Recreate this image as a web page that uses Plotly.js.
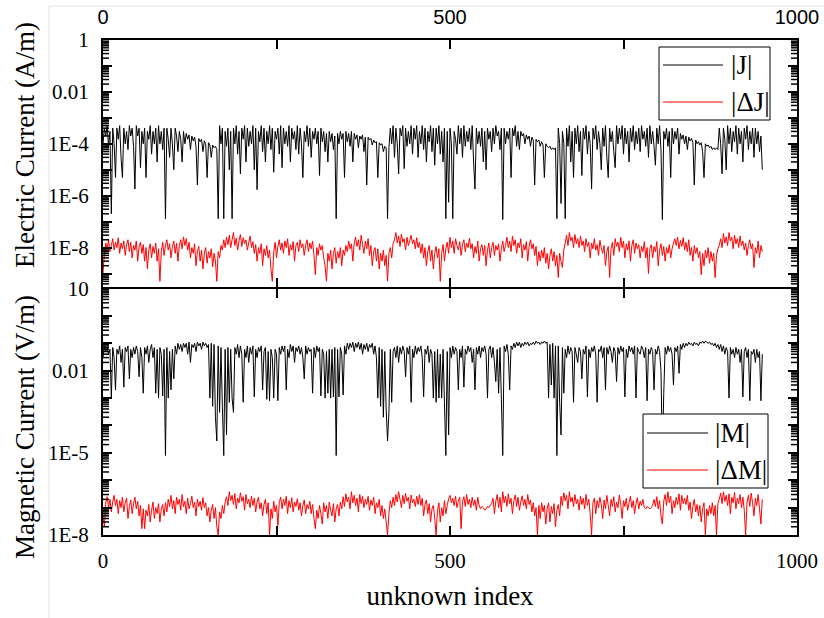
<!DOCTYPE html>
<html>
<head>
<meta charset="utf-8">
<script src="https://cdn.plot.ly/plotly-3.0.1.min.js"></script>
<style>html,body{margin:0;padding:0;background:#fff;}#chart{width:824px;height:618px;}</style>
</head>
<body>
<div id="chart"></div>
<script>
// ---- data (every 2nd unknown index) ----
const STEP = 2;
const seriesNames = ['|J|', '|\u0394J|', '|M|', '|\u0394M|'];

const J = [
1e-4,4e-4,2e-4,5e-4,8e-5,3e-4,2e-7,4e-4,1e-4,5e-6,
4e-4,1.5e-4,5e-4,3e-5,5e-6,4e-4,1e-4,3e-4,6e-5,5e-4,
2e-4,4e-4,8e-5,1.8e-6,5e-4,2e-4,4e-4,1.2e-5,3e-4,1e-4,
4e-4,5e-6,3e-4,1.5e-4,5e-4,4e-5,3e-4,1e-4,4e-4,2e-5,
5e-4,1e-4,3e-4,6e-5,4e-4,1.3e-7,4e-4,1.5e-4,3e-5,4e-4,
1e-4,1e-5,4e-4,2e-4,5e-5,3e-4,1.5e-4,2e-5,3e-4,1e-4,
2.5e-4,1.5e-4,2.2e-4,6e-5,2e-4,1.3e-4,1.8e-4,8e-5,2.6e-6,1.6e-4,
1.2e-4,1.5e-4,5e-5,1.3e-4,1e-4,5e-6,1.1e-4,9e-5,3e-5,9e-5,
7e-5,8e-5,6e-5,1.3e-7,5e-4,1e-4,4e-4,1.3e-7,3e-4,8e-5,
4e-4,1e-5,3e-4,1.3e-7,4e-4,1e-4,5e-4,4e-5,3e-4,7e-6,
4e-4,1.5e-4,5e-4,2e-5,4e-4,8e-5,3e-4,1e-4,5e-4,1e-5,
4e-4,1.7e-6,3e-4,1.2e-4,5e-4,5e-5,4e-4,2e-5,3e-4,1e-4,
5e-4,6e-5,4e-4,8e-6,3e-4,1.5e-4,4e-4,4e-5,5e-4,1.2e-5,
4e-4,1e-4,3e-4,8e-5,5e-4,2e-5,4e-4,1.5e-4,3e-4,6e-5,
5e-4,4e-5,4e-4,1e-4,5e-6,3e-4,1.2e-4,5e-4,8e-5,4e-4,
3e-5,3e-4,1.5e-4,4e-4,1e-4,3e-4,6e-6,4e-4,1.2e-4,3e-4,
5e-5,2.5e-4,2e-5,3e-4,1.2e-4,2.5e-4,6e-5,2e-4,1.3e-7,2.5e-4,
1e-4,3e-4,1.5e-4,2.5e-4,5e-6,3e-4,1.2e-4,2.5e-4,8e-5,3e-4,
2e-5,2.5e-4,1.5e-4,2.2e-4,7e-5,2e-4,1.5e-4,2.2e-4,5e-5,1.8e-4,
2.6e-6,1.8e-4,1.4e-4,1.6e-4,9e-5,1.4e-4,1.1e-4,1.2e-4,5e-6,1.1e-4,
9e-5,1e-4,5e-5,8e-5,7e-5,1.3e-7,7e-5,4e-4,1e-4,5e-4,
3e-5,4e-4,1e-4,7e-6,4e-4,2e-4,5e-4,1.1e-5,4e-4,8e-5,
3e-4,1e-4,5e-4,4e-5,4e-4,1.5e-4,5e-4,3e-5,3e-4,1e-4,
5e-4,6e-5,4e-4,2e-5,3e-4,1.2e-4,5e-4,5e-5,4e-4,1.5e-5,
4e-4,1e-4,5e-4,4e-5,3e-4,2e-5,4e-4,1.3e-7,3e-4,5.6e-7,
4e-4,1e-4,1.3e-7,3e-4,1.5e-4,4e-5,5e-4,1e-4,4e-4,3e-5,
5e-4,8e-5,3e-4,1.2e-4,4e-4,6e-5,5e-4,2e-5,1.8e-6,4e-4,
1e-4,3e-4,8e-5,4e-4,2e-5,3e-4,1e-5,4e-4,1.5e-4,3e-4,
5e-5,4e-4,1e-4,5e-4,2e-4,3e-4,6e-5,4e-4,1.2e-7,4e-4,
1e-4,3e-4,1.5e-4,4e-4,5e-6,4e-4,2e-4,5e-4,8e-5,3e-4,
6e-5,3e-4,2e-4,2.5e-4,1e-4,2.2e-4,1.5e-4,2e-4,8e-5,1.8e-4,
1.4e-4,2.6e-6,1.5e-4,1.2e-4,1.4e-4,8e-5,1.2e-4,9e-5,5e-6,1e-4,
8e-5,7e-5,8e-5,6e-5,7e-5,6e-5,7e-5,1.3e-7,4e-4,1e-4,
5e-7,3e-4,1e-4,1.3e-7,4e-4,8e-5,5e-4,2e-5,3e-4,5e-6,
4e-4,1e-4,5e-4,5e-5,3e-4,6e-6,4e-4,1.5e-4,5e-4,4e-5,
3e-4,1e-4,1.8e-6,4e-4,1.5e-4,5e-4,6e-5,3e-4,1e-4,1e-5,
4e-4,8e-5,5e-4,3e-5,5e-6,4e-4,1.2e-4,3e-4,5e-5,1.2e-5,
5e-4,1e-4,4e-4,1.5e-4,5e-4,4e-5,4e-4,1e-4,3e-4,2e-5,
4e-4,1.2e-4,5e-4,6e-5,3e-4,1e-4,4e-4,5e-5,5e-4,1.5e-4,
3e-4,8e-5,4e-4,3e-5,5e-4,1e-4,3e-4,8e-5,1.5e-5,4e-4,
1e-4,5e-4,6e-5,1.2e-7,3e-4,1.5e-4,4e-4,8e-5,3e-4,5e-6,
4e-4,1e-4,3e-4,1.5e-4,4e-4,4e-5,2.5e-4,1.5e-4,2.2e-4,1e-4,
2e-4,6e-5,1.8e-4,1.3e-4,1.6e-4,1.1e-4,2.6e-6,1.4e-4,1e-4,1.2e-4,
9e-5,1.1e-4,5e-5,5e-6,1e-4,8e-5,9e-5,7e-5,8e-5,6e-5,
7e-5,6e-5,7e-5,6e-5,4e-4,1e-4,7e-6,4e-4,1.5e-4,1e-5,
5e-4,1e-4,4e-4,5e-5,3e-4,1.2e-4,5e-4,4e-5,4e-4,1e-4,
3e-4,2e-5,4e-4,1.5e-4,5e-4,6e-5,3e-4,1e-4,4e-4,3e-5,
4e-4,1e-4,3e-4,5e-5,2e-4,1e-5
];

const dJ = [
1e-9,6e-9,1.5e-8,9e-9,2e-8,7e-9,1.2e-8,2.2e-8,8e-9,1.6e-8,
1e-8,2.4e-8,6e-9,1.5e-8,9e-9,1.8e-8,5e-9,1.3e-8,2e-8,7e-9,
1.6e-8,4e-9,1.2e-8,8e-9,1.8e-8,3e-9,1.1e-8,1.6e-8,6e-9,1.3e-8,
3e-9,1e-8,1.5e-9,8e-9,1.4e-8,4e-9,1.1e-8,6e-9,1.5e-8,3e-9,
9e-9,5e-10,7e-9,1.6e-8,5e-9,1.2e-8,2e-8,8e-9,1.4e-8,4e-9,
1.1e-8,1.8e-8,6e-9,1.5e-8,3e-9,1.2e-8,2e-8,9e-9,2.6e-8,1.2e-8,
2.2e-8,8e-9,1.6e-8,4e-9,1e-8,6e-9,1.4e-8,2e-9,7e-9,1.1e-8,
3e-9,8e-9,1.5e-9,6e-9,1e-8,2.5e-9,7e-9,4e-9,9e-9,1.8e-9,
6e-9,3e-9,5e-10,7e-9,4e-9,1.2e-8,8e-9,2e-8,1e-8,2.5e-8,
1.3e-8,3e-8,1e-8,2e-8,3.8e-8,1.2e-8,2.3e-8,8e-9,1.8e-8,3.2e-8,
1.1e-8,2.4e-8,1.4e-8,2e-8,8e-9,1.5e-8,2.8e-8,1e-8,1.7e-8,6e-9,
1.3e-8,3e-9,1e-8,6e-9,1.4e-8,2e-9,9e-9,5e-9,1.2e-8,4e-9,
8e-9,1.5e-9,5e-10,7e-9,1.6e-8,4e-9,1.1e-8,2e-8,8e-9,1.5e-8,
6e-9,1.8e-8,1e-8,2.2e-8,5e-9,1.3e-8,8e-9,1.7e-8,3e-9,1.2e-8,
1.6e-8,7e-9,2e-8,1e-8,1.4e-8,5e-9,1.2e-8,2e-8,7e-9,1.5e-8,
9e-9,1.8e-8,5e-9,9e-10,1e-8,5e-9,1.4e-8,8e-9,1.2e-8,4e-9,
2e-9,5e-10,6e-9,3e-9,8e-9,1.5e-9,6e-9,1e-8,2.5e-9,7e-9,
4e-9,1e-8,2e-9,8e-9,5e-9,1.2e-8,7e-9,1.8e-8,9e-9,1.4e-8,
3e-9,1.5e-8,2.5e-8,1.1e-8,2e-8,8e-9,3e-8,1.3e-8,6e-9,1.8e-8,
9e-9,2.2e-8,5e-9,1.2e-8,2e-9,7e-9,1e-8,3e-9,9e-9,1.5e-9,
6e-9,3e-9,8e-9,2e-9,5e-9,5e-10,6e-9,1e-8,4e-9,1.4e-8,
2e-8,3.8e-8,1.5e-8,2.8e-8,1.1e-8,3.3e-8,1.6e-8,2.2e-8,8e-9,2.5e-8,
1.2e-8,1.8e-8,3e-8,1.4e-8,2e-8,9e-9,2.4e-8,1e-8,1.6e-8,6e-9,
1.4e-8,4e-9,1e-8,2e-9,7e-9,1.2e-8,3e-9,8e-9,1.5e-9,6e-9,
1.1e-8,4e-9,9e-9,5e-10,6e-9,1.3e-8,3e-9,9e-9,1.6e-8,6e-9,
2.5e-8,1e-8,1.8e-8,6e-9,2.2e-8,1.2e-8,8e-9,1.7e-8,5e-9,1.3e-8,
2e-8,7e-9,1.5e-8,1e-8,2.3e-8,9e-9,1.4e-8,4e-9,1.1e-8,6e-9,
1.8e-8,3e-9,9e-9,1.3e-8,5e-9,1.2e-8,2e-9,8e-9,1.5e-8,4e-9,
1e-8,1.6e-8,5e-9,1.2e-8,8e-9,1.4e-8,3e-9,9e-9,1.8e-8,7e-9,
1.2e-8,2.5e-8,1e-8,1.8e-8,7e-9,2.8e-8,1.2e-8,2e-8,6e-9,1.5e-8,
1e-8,2.2e-8,4e-9,1.3e-8,8e-9,1.7e-8,3e-9,1.1e-8,2e-8,9e-9,
1.4e-8,5e-9,1.1e-8,2e-9,7e-9,3e-9,8e-9,4e-9,1e-8,2.5e-9,
6e-9,1.5e-9,5e-9,9e-9,3e-9,7e-9,2e-9,5e-9,7e-10,6e-9,
3e-9,1.7e-9,8e-9,1.5e-8,3e-8,1.2e-8,3.8e-8,1.8e-8,2.5e-8,1e-8,
3.2e-8,1.4e-8,2.2e-8,1e-8,2.8e-8,1.2e-8,1.8e-8,7e-9,2.2e-8,1.1e-8,
1.6e-8,4e-9,1.5e-8,9e-9,2.2e-8,8e-9,1.3e-8,5e-9,1.9e-8,1e-8,
6e-9,1.2e-8,2e-9,7e-9,1.1e-8,7e-10,9e-9,1.6e-8,5e-9,2.2e-8,
1.1e-8,1.6e-8,7e-9,2.5e-8,1e-8,1.8e-8,4e-9,1.4e-8,8e-9,1.8e-8,
3e-9,1.2e-8,2e-8,6e-9,1.5e-8,9e-9,1.3e-8,4e-9,1.1e-8,7e-9,
1.7e-8,4e-9,1e-8,1e-9,9e-9,1.3e-8,4e-9,1.1e-8,7e-9,1.7e-8,
2e-9,8e-9,1.4e-8,5e-9,1.1e-8,3e-9,1e-8,6e-9,1.3e-8,4e-9,
9e-9,1.5e-8,2.2e-8,1.2e-8,2.5e-8,9e-9,1.9e-8,1.1e-8,2.4e-8,8e-9,
1.6e-8,7e-9,2e-8,5e-9,1e-8,3e-9,1.2e-8,6e-9,1e-8,4e-9,
7e-9,9e-10,6e-9,2e-9,8e-9,4e-9,1e-8,2.5e-9,7e-9,3e-9,
6e-9,7e-10,5e-9,9e-9,1.2e-8,2.2e-8,1e-8,3.5e-8,1.5e-8,2.6e-8,
1.2e-8,3.8e-8,1.8e-8,2.5e-8,9e-9,3e-8,1.4e-8,2.2e-8,1e-8,2.8e-8,
1.2e-8,1.8e-8,8e-9,1.5e-8,5e-9,1.2e-8,2e-8,9e-9,1.4e-8,1.7e-9,
1e-8,6e-9,1.8e-8,4e-9,1.2e-8,7e-9
];

const M = [
0.03,0.08,0.05,0.07,0.04,0.06,1e-3,0.07,0.03,2e-3,
0.06,0.04,0.08,0.02,0.06,2.5e-3,0.07,0.05,0.08,5e-3,
0.06,0.03,0.07,0.04,0.08,0.05,6e-3,0.07,0.03,1.5e-3,
0.07,0.04,0.08,0.02,0.06,0.09,0.03,0.07,1.5e-3,0.06,
1e-3,0.07,0.04,1.2e-3,0.06,8e-6,0.07,1e-3,0.05,2e-3,
0.06,5e-3,0.08,0.04,0.1,0.06,0.09,0.05,0.1,0.07,
0.1,0.04,0.11,0.02,0.09,0.07,0.1,0.05,0.11,0.08,
0.1,0.06,0.11,0.08,0.1,0.07,0.09,1e-3,0.1,5e-4,
0.09,2e-4,2.7e-5,0.08,3e-4,0.07,5e-4,8e-6,0.06,4.5e-5,
0.07,7e-4,0.06,1e-3,3e-4,0.07,0.04,0.09,0.03,0.08,
0.04,7e-4,0.06,0.03,0.08,0.02,0.07,0.04,0.08,1.1e-3,
0.06,0.03,0.07,0.05,0.08,2e-3,0.05,0.07,9e-4,0.05,
8e-4,0.06,0.03,1e-3,0.06,0.04,8e-4,0.07,0.04,0.08,
0.05,0.08,2e-3,0.06,0.03,0.09,0.05,0.08,0.02,0.07,
0.05,0.08,0.04,0.07,0.03,5e-3,0.08,0.04,0.07,0.05,
0.06,1.5e-3,0.07,0.03,0.08,0.05,0.07,1.2e-3,0.06,0.04,
1e-3,0.05,1.5e-3,0.06,1e-3,0.06,1.1e-3,0.07,8e-6,0.06,
1.1e-3,0.07,0.04,1.3e-3,0.08,0.04,0.1,0.06,0.1,0.07,
0.11,0.05,0.1,0.07,0.11,0.06,0.1,0.04,0.09,0.06,
0.1,0.05,0.09,0.07,0.1,0.04,0.08,0.03,1e-3,0.07,
5e-4,0.06,2e-4,0.05,4e-4,2.7e-5,3e-4,0.06,7e-4,0.05,
0.07,0.03,0.08,0.02,0.07,0.04,0.08,0.05,6e-3,0.07,
0.04,0.08,7e-4,0.06,0.03,0.08,0.04,0.07,0.05,0.08,
0.03,1.1e-3,0.06,0.04,0.08,0.02,0.06,0.04,1e-3,0.05,
7e-4,0.06,1e-3,0.04,1e-3,0.06,7e-4,8e-6,0.05,4.5e-5,
0.07,0.03,0.08,0.04,0.07,0.05,2e-3,0.06,0.03,0.08,
2.5e-3,0.06,0.04,0.08,0.05,0.07,0.02,0.06,2e-3,0.07,
0.04,0.08,0.03,0.07,0.05,0.08,0.04,1e-3,0.06,0.08,
0.03,0.07,0.02,4e-3,0.06,1.5e-3,0.07,1e-3,8e-6,0.08,
0.05,0.09,0.04,2e-3,0.08,0.06,0.1,0.07,0.11,0.08,
0.11,0.07,0.1,0.08,0.11,0.09,0.11,0.08,0.1,0.09,
0.11,0.09,0.12,0.1,0.11,0.09,0.11,0.1,0.12,0.1,
0.11,1e-3,0.09,3e-3,0.1,1e-3,0.08,8e-6,0.08,7e-4,
4.5e-5,0.07,1.5e-3,0.06,0.03,0.08,0.04,0.07,0.05,7e-4,
0.07,0.04,0.02,0.07,0.05,5e-3,0.06,0.04,0.08,1.1e-3,
0.06,0.03,0.07,0.05,0.08,0.04,7e-4,0.06,0.05,0.08,
0.03,0.07,2e-3,0.07,0.04,0.08,0.05,0.02,0.07,0.05,
4e-3,0.07,0.04,0.08,0.05,0.07,1.1e-3,0.06,0.03,0.08,
0.05,0.07,0.04,0.08,1e-3,0.07,0.05,0.04,0.08,0.06,
0.03,0.07,8e-4,0.06,0.04,0.07,0.05,2e-3,0.06,0.04,
0.08,0.05,0.01,8e-6,1.5e-3,0.07,0.04,0.08,0.05,0.07,
0.04,3e-3,0.07,0.05,0.08,8e-3,0.09,0.06,0.1,0.07,
0.1,0.08,0.11,0.09,0.1,0.08,0.11,0.09,0.1,0.08,
0.11,0.1,0.12,0.1,0.12,0.11,0.1,0.11,0.09,0.1,
0.08,0.1,0.07,0.09,0.06,0.09,0.05,0.08,0.04,0.07,
0.05,1e-3,0.07,0.04,0.06,0.03,0.07,0.04,0.06,0.02,
0.06,1.1e-3,0.05,0.07,0.03,0.06,8e-4,0.05,0.04,0.06,
0.02,0.06,0.03,0.05,8e-4,0.04
];

const dM = [
5e-8,2e-8,1.5e-7,2.5e-7,1e-7,2e-7,7e-8,1.6e-7,2.8e-7,1.2e-7,
2e-7,6e-8,1.8e-7,1e-7,2.4e-7,7e-8,1.5e-7,2.2e-7,4e-8,1.1e-7,
1.9e-7,6e-8,1.4e-7,2.4e-7,9e-8,1.7e-7,5e-8,1.2e-7,1.7e-8,9e-8,
1.7e-8,8e-8,5e-8,1.3e-7,3e-8,8e-8,1.6e-7,4e-8,1e-7,6e-8,
1.4e-7,3e-8,9e-8,1.3e-7,5e-8,1.5e-7,7e-8,2e-7,1.1e-7,2.8e-7,
9e-8,1.8e-7,6e-8,2.4e-7,1.3e-7,2e-7,8e-8,3e-7,1.1e-7,1.7e-7,
6e-8,2.2e-7,9e-8,1.4e-7,2.6e-7,1e-7,1.6e-7,5e-8,2e-7,1.1e-7,
1.7e-7,8e-8,2.3e-7,1e-7,1.5e-7,5e-8,1e-7,3e-8,8e-8,1.3e-7,
4e-8,1e-7,2e-8,1e-8,7e-8,4e-8,1.2e-7,6e-8,1.6e-7,2.5e-7,
1.2e-7,3.8e-7,1.8e-7,2.8e-7,1.3e-7,3.2e-7,9e-8,2.2e-7,1.5e-7,3.5e-7,
1.7e-7,2.5e-7,8e-8,3e-7,1.4e-7,2e-7,1e-7,2.6e-7,1.2e-7,2.2e-7,
7e-8,1.6e-7,2.4e-7,9e-8,1.5e-7,5e-8,1.3e-7,2e-7,6e-8,1.5e-7,
1e-8,9e-8,4e-8,1.7e-7,7e-8,1.2e-7,2.2e-8,1.5e-7,2.4e-7,9e-8,
2e-7,1.2e-7,2.6e-7,6e-8,1.8e-7,1e-7,2.3e-7,7e-8,1.6e-7,1.1e-7,
2.1e-7,8e-8,1.5e-7,5e-8,1.2e-7,1.9e-7,6e-8,1.3e-7,9e-8,1.7e-7,
6e-8,1.3e-7,4e-8,1.7e-8,8e-8,4e-8,1.2e-7,6e-8,2.5e-8,1.5e-7,
7e-8,1.2e-7,4e-8,1.6e-7,8e-8,5e-8,1.4e-7,3e-8,9e-8,1.3e-7,
5e-8,1.6e-7,9e-8,2.5e-7,1.1e-7,3.2e-7,1.6e-7,2.4e-7,9e-8,3.8e-7,
1.5e-7,2.8e-7,1.2e-7,2.2e-7,7e-8,3e-7,1.4e-7,2.6e-7,1e-7,2e-7,
1.3e-7,2.6e-7,8e-8,1.9e-7,1.2e-7,2.4e-7,6e-8,1.5e-7,1e-7,2e-7,
5e-8,1.2e-7,4e-8,9e-8,3e-8,1e-8,6e-8,1.8e-7,1e-7,2.4e-7,
1.2e-7,3e-7,1.6e-7,3.8e-7,2e-7,1e-7,2.8e-7,1.4e-7,3.3e-7,1.7e-7,
2.4e-7,9e-8,2.9e-7,1.5e-7,2e-7,1.1e-7,2.6e-7,1.3e-7,3e-7,1.2e-7,
2.2e-7,5e-8,1.3e-7,1.9e-7,6e-8,1.4e-7,3e-8,9e-8,1.2e-7,4e-8,
1e-8,8e-8,1.5e-7,3e-8,1e-7,5e-8,1.8e-7,6e-8,1.2e-7,2.1e-7,
2.8e-7,1.5e-7,2.2e-7,1.2e-7,2.6e-7,1e-7,1.7e-7,2.4e-7,1.7e-8,1.6e-7,
2.5e-7,1.1e-7,3e-7,1.3e-7,2e-7,1e-7,2.4e-7,1.2e-7,1.9e-7,8e-8,
2.4e-7,1.2e-7,9e-8,1.1e-7,1e-7,8e-8,9e-8,1.1e-7,1e-7,1.2e-7,
1.4e-7,2.2e-7,6e-8,1.7e-7,3e-7,1e-7,2.4e-7,7e-8,3.8e-7,1.5e-7,
2.6e-7,1.1e-7,3.2e-7,1.4e-7,2.2e-7,6e-8,1.8e-7,2.9e-7,1.1e-7,2.4e-7,
8e-8,1.6e-7,2.7e-7,1.2e-7,2e-7,9e-8,3e-7,1.3e-7,1.9e-7,7e-8,
1.5e-7,5e-8,1e-7,1e-8,1.2e-7,4e-8,1.5e-7,7e-8,1.2e-7,2.5e-8,
9e-8,1.5e-7,3e-8,1.1e-7,6e-8,1.4e-7,2e-8,8e-8,1.3e-7,5e-8,
2.6e-7,1.2e-7,3.5e-7,1.8e-7,2.8e-7,9e-8,3.8e-7,1.6e-7,2.4e-7,1.1e-7,
3e-7,1.4e-7,2e-7,8e-8,2.6e-7,1.3e-7,2.2e-7,9e-8,3e-7,1.2e-7,
2e-7,6e-8,1e-8,1.5e-7,2.2e-7,6e-8,1.8e-7,1e-7,2.4e-7,1.3e-7,
4e-8,1.9e-7,9e-8,2.8e-7,1.2e-7,5e-8,2e-7,1.1e-7,2.5e-7,7e-8,
1.6e-7,1e-7,2.9e-7,1.3e-7,4e-8,1.8e-7,1.1e-7,2.2e-7,8e-8,1.5e-7,
2.6e-7,1e-7,1.8e-7,6e-8,1.4e-7,2.3e-7,9e-8,1.7e-7,1.2e-7,2e-7,
1e-7,9e-8,1.1e-7,1e-7,9e-8,1e-7,1.2e-7,2e-7,1.1e-7,2.5e-7,
9e-8,1.8e-7,5e-8,2.5e-8,1.7e-7,3e-7,1.2e-7,3.8e-7,1.5e-7,2.6e-7,
6e-8,1.8e-7,1e-7,2.4e-7,1.3e-7,3.2e-7,8e-8,2.8e-7,1.4e-7,2.2e-7,
1.3e-7,2.8e-7,8e-8,1.6e-7,4e-8,1.1e-7,2e-7,7e-8,1.3e-7,5e-8,
1.2e-7,3e-8,9e-8,1.5e-7,1e-8,9e-8,5e-8,1.2e-7,6e-8,1.5e-7,
5e-8,1.2e-7,1e-8,1.4e-7,2e-7,3.4e-7,1.4e-7,3.8e-7,1.7e-7,2.8e-7,
1.2e-7,3.2e-7,6e-8,2.4e-7,1.5e-7,3.6e-7,9e-8,2.2e-7,1.4e-7,3e-7,
1e-7,2.4e-7,8e-8,1e-8,1.6e-7,2.8e-7,1.1e-7,3.4e-7,1.5e-7,5e-8,
2.2e-7,1.2e-7,3e-7,9e-8,2.5e-8,2e-7
];

// tick labels
const xTickVals = [0, 250, 500, 750, 1000];
const xTickText = ['0', '', '500', '', '1000'];
const yTopTickVals = [1, 0.1, 0.01, 1e-3, 1e-4, 1e-5, 1e-6, 1e-7, 1e-8, 1e-9];
const yTopTickText = ['1', '', '0.01', '', '1E-4', '', '1E-6', '', '1E-8', ''];
const yBotTickVals = [10, 1, 0.1, 0.01, 1e-3, 1e-4, 1e-5, 1e-6, 1e-7, 1e-8];
const yBotTickText = ['10', '', '', '0.01', '', '', '1E-5', '', '', '1E-8'];

// ---- drawing ----
const SERIF = 'Liberation Serif, Times New Roman, serif';
const SANS = 'Liberation Sans, Arial, sans-serif';
const W = 824, H = 618, ML = 103, MR = 27, MT = 40, MB = 83;
const PW = W - ML - MR, PH = H - MT - MB;
const px = v => (v - ML) / PW;
const py = v => (H - MB - v) / PH;
const idx = arr => arr.map((_, i) => i * STEP);
const GAP = 1 / PH;   // so the two 2px frame lines at the panel joint coincide
const TOP_RANGE = [-9.5, 0], BOT_RANGE = [-8, 1];
const TOP_DOM = [0.5 + GAP, 1], BOT_DOM = [0, 0.5 - GAP];

// minor log ticks (2..9 of each decade) on both y sides: short paper-space lines
function minorTickShapes(range, dom) {
  const out = [], len = 6 / PW;
  for (let e = Math.floor(range[0]); e < range[1]; e++) {
    for (let m = 2; m <= 9; m++) {
      const lv = e + Math.log10(m);
      if (lv <= range[0] || lv >= range[1]) continue;
      const yp = dom[0] + (lv - range[0]) / (range[1] - range[0]) * (dom[1] - dom[0]);
      [[-1 / PW, len], [1 - len, 1 + 1 / PW]].forEach(([a, b]) => out.push({
        type: 'line', xref: 'paper', yref: 'paper', x0: a, x1: b, y0: yp, y1: yp,
        line: {color: '#000', width: 1.5}, layer: 'above'
      }));
    }
  }
  return out;
}

const traces = [
  {x: idx(J), y: J, xaxis: 'x2', yaxis: 'y', type: 'scatter', mode: 'lines', name: seriesNames[0],
   line: {color: '#000000', width: 1, simplify: false}, showlegend: false},
  {x: idx(dJ), y: dJ, xaxis: 'x2', yaxis: 'y', type: 'scatter', mode: 'lines', name: seriesNames[1],
   line: {color: '#ff0000', width: 1, simplify: false}, showlegend: false},
  {x: idx(M), y: M, xaxis: 'x', yaxis: 'y2', type: 'scatter', mode: 'lines', name: seriesNames[2],
   line: {color: '#000000', width: 1, simplify: false}, showlegend: false},
  {x: idx(dM), y: dM, xaxis: 'x', yaxis: 'y2', type: 'scatter', mode: 'lines', name: seriesNames[3],
   line: {color: '#ff0000', width: 1, simplify: false}, showlegend: false}
];

const axisCommon = {
  showline: true, linewidth: 2, linecolor: '#000', mirror: 'ticks',
  ticks: 'inside', ticklen: 9, tickwidth: 2, tickcolor: '#000',
  showgrid: false, zeroline: false, tickmode: 'array'
};

const legendShapes = [
  // faint outer frame lines seen in the reference
  {type: 'line', xref: 'paper', yref: 'paper', x0: px(49), x1: px(824), y0: py(6), y1: py(6), line: {color: '#e4e4e4', width: 1}, layer: 'below'},
  {type: 'line', xref: 'paper', yref: 'paper', x0: px(49), x1: px(49), y0: py(6), y1: py(618), line: {color: '#e4e4e4', width: 1}, layer: 'below'},
  // top legend
  {type: 'rect', xref: 'paper', yref: 'paper', x0: px(659), x1: px(770), y0: py(47), y1: py(120), line: {color: '#000', width: 1}, fillcolor: '#ffffff', layer: 'above'},
  {type: 'line', xref: 'paper', yref: 'paper', x0: px(663), x1: px(723), y0: py(65), y1: py(65), line: {color: '#000', width: 1}, layer: 'above'},
  {type: 'line', xref: 'paper', yref: 'paper', x0: px(663), x1: px(723), y0: py(102), y1: py(102), line: {color: '#ff0000', width: 1}, layer: 'above'},
  // bottom legend
  {type: 'rect', xref: 'paper', yref: 'paper', x0: px(643), x1: px(768), y0: py(414), y1: py(488), line: {color: '#000', width: 1}, fillcolor: '#ffffff', layer: 'above'},
  {type: 'line', xref: 'paper', yref: 'paper', x0: px(647), x1: px(708), y0: py(433), y1: py(433), line: {color: '#000', width: 1}, layer: 'above'},
  {type: 'line', xref: 'paper', yref: 'paper', x0: px(647), x1: px(708), y0: py(470), y1: py(470), line: {color: '#ff0000', width: 1}, layer: 'above'}
];

const layout = {
  width: W, height: H,
  margin: {l: ML, r: MR, t: MT, b: MB, pad: 0},
  paper_bgcolor: '#ffffff', plot_bgcolor: '#ffffff',
  showlegend: false,
  xaxis: Object.assign({}, axisCommon, {
    domain: [0, 1], anchor: 'y2', range: [0, 1000],
    tickvals: xTickVals, ticktext: xTickText,
    ticklabelstandoff: 6,
    tickfont: {family: SERIF, size: 21, color: '#000'},
    title: {text: 'unknown index', font: {family: SERIF, size: 27, color: '#000'}, standoff: 14}
  }),
  xaxis2: Object.assign({}, axisCommon, {
    domain: [0, 1], anchor: 'y', side: 'top', range: [0, 1000],
    tickvals: xTickVals, ticktext: xTickText,
    ticklabelstandoff: 6,
    tickfont: {family: SANS, size: 20, color: '#000'}
  }),
  yaxis: Object.assign({}, axisCommon, {
    domain: TOP_DOM, anchor: 'x2', type: 'log', range: TOP_RANGE,
    tickvals: yTopTickVals, ticktext: yTopTickText,
    ticklabelstandoff: 8,
    tickfont: {family: SERIF, size: 21, color: '#000'}
  }),
  yaxis2: Object.assign({}, axisCommon, {
    domain: BOT_DOM, anchor: 'x', type: 'log', range: BOT_RANGE,
    tickvals: yBotTickVals, ticktext: yBotTickText,
    ticklabelstandoff: 8,
    tickfont: {family: SERIF, size: 21, color: '#000'}
  }),
  shapes: minorTickShapes(TOP_RANGE, TOP_DOM)
    .concat(minorTickShapes(BOT_RANGE, BOT_DOM))
    .concat(legendShapes),
  annotations: [
    {text: 'Electric Current (A/m)', xref: 'paper', yref: 'paper', x: px(25), y: py(145), textangle: -90,
     xanchor: 'center', yanchor: 'middle', showarrow: false, font: {family: SERIF, size: 27, color: '#000'}},
    {text: 'Magnetic Current (V/m)', xref: 'paper', yref: 'paper', x: px(25), y: py(427), textangle: -90,
     xanchor: 'center', yanchor: 'middle', showarrow: false, font: {family: SERIF, size: 27, color: '#000'}},
    {text: seriesNames[0], xref: 'paper', yref: 'paper', x: px(729), y: py(65), xanchor: 'left', yanchor: 'middle',
     showarrow: false, font: {family: SERIF, size: 27, color: '#000'}},
    {text: seriesNames[1], xref: 'paper', yref: 'paper', x: px(729), y: py(102), xanchor: 'left', yanchor: 'middle',
     showarrow: false, font: {family: SERIF, size: 27, color: '#000'}},
    {text: seriesNames[2], xref: 'paper', yref: 'paper', x: px(713), y: py(433), xanchor: 'left', yanchor: 'middle',
     showarrow: false, font: {family: SERIF, size: 27, color: '#000'}},
    {text: seriesNames[3], xref: 'paper', yref: 'paper', x: px(713), y: py(470), xanchor: 'left', yanchor: 'middle',
     showarrow: false, font: {family: SERIF, size: 27, color: '#000'}}
  ]
};

Plotly.newPlot('chart', traces, layout, {displayModeBar: false, staticPlot: true});
</script>
</body>
</html>
